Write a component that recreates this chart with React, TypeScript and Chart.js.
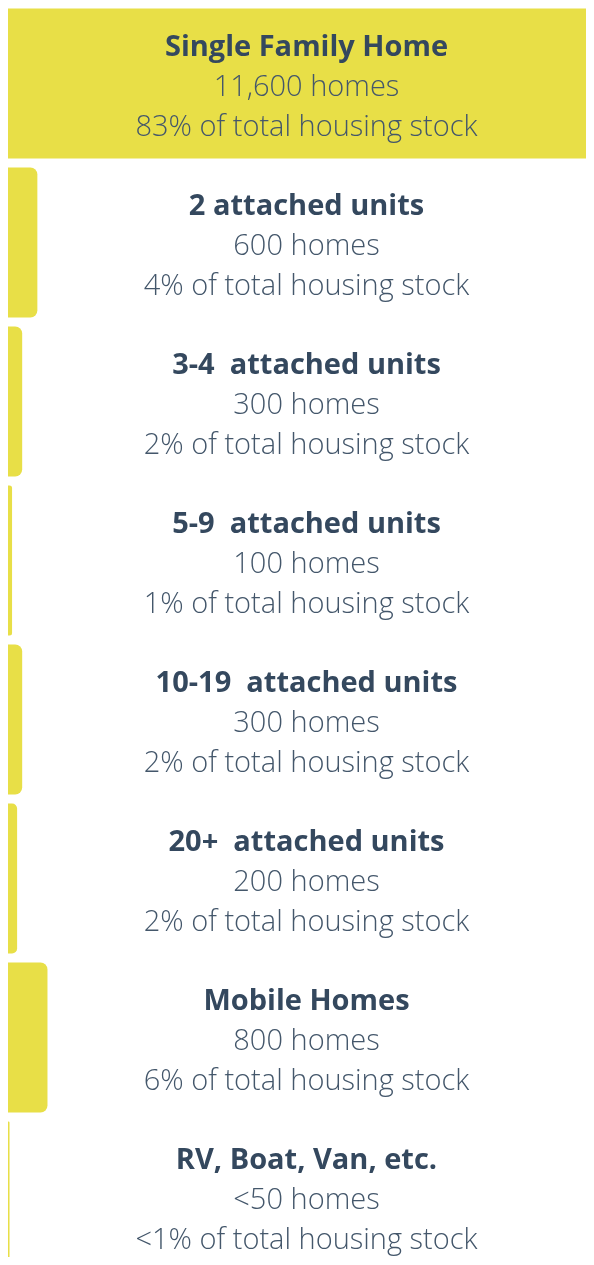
import React, { useEffect, useRef } from "react";
import { Chart, registerables } from "chart.js";

Chart.register(...registerables);

const categories = [
  "Single Family Home",
  "2 attached units",
  "3-4  attached units",
  "5-9  attached units",
  "10-19  attached units",
  "20+  attached units",
  "Mobile Homes",
  "RV, Boat, Van, etc.",
];

const homes = [11600, 600, 300, 100, 300, 200, 800, 50];

const homeLabels = [
  "11,600 homes",
  "600 homes",
  "300 homes",
  "100 homes",
  "300 homes",
  "200 homes",
  "800 homes",
  "<50 homes",
];

const shareLabels = [
  "83% of total housing stock",
  "4% of total housing stock",
  "2% of total housing stock",
  "1% of total housing stock",
  "2% of total housing stock",
  "2% of total housing stock",
  "6% of total housing stock",
  "<1% of total housing stock",
];

const BAR_COLOR = "#E8DF47";
const TEXT_COLOR = "#34485E";
const LIGHT_TEXT_COLOR = "#44576B";
const AXIS_COLOR = "#D4D4D4";

const axisLinePlugin = {
  id: "axisLine",
  beforeDatasetsDraw(chart: any) {
    const { ctx, chartArea } = chart;
    ctx.save();
    ctx.strokeStyle = AXIS_COLOR;
    ctx.lineWidth = 1;
    ctx.beginPath();
    ctx.moveTo(chartArea.left - 0.5, chartArea.top);
    ctx.lineTo(chartArea.left - 0.5, chartArea.bottom);
    ctx.stroke();
    ctx.restore();
  },
};

const labelPlugin = {
  id: "centerLabels",
  afterDatasetsDraw(chart: any) {
    const { ctx, chartArea } = chart;
    const yScale = chart.scales.y;
    const cx = chartArea.left + chartArea.width / 2 + 6;
    ctx.save();
    ctx.textAlign = "center";
    ctx.textBaseline = "middle";
    categories.forEach((cat, i) => {
      const cy = yScale.getPixelForValue(i) + 4;
      ctx.fillStyle = TEXT_COLOR;
      ctx.font = "700 29px 'Open Sans'";
      ctx.fillText(cat, cx, cy - 40);
      ctx.fillStyle = LIGHT_TEXT_COLOR;
      ctx.font = "300 29px 'Open Sans'";
      ctx.fillText(homeLabels[i], cx, cy);
      ctx.fillText(shareLabels[i], cx, cy + 40);
    });
    ctx.restore();
  },
};

export default function App() {
  const canvasRef = useRef<HTMLCanvasElement | null>(null);

  useEffect(() => {
    if (!canvasRef.current) return;
    const chart = new Chart(canvasRef.current, {
      type: "bar",
      data: {
        labels: categories,
        datasets: [
          {
            data: homes,
            backgroundColor: BAR_COLOR,
            borderRadius: 7,
            borderSkipped: "start",
            barPercentage: 1,
            categoryPercentage: 150 / 159,
          },
        ],
      },
      options: {
        indexAxis: "y",
        animation: false,
        responsive: true,
        maintainAspectRatio: false,
        layout: { padding: { left: 1, right: 0, top: 0, bottom: 0 } },
        plugins: {
          legend: { display: false },
          tooltip: { enabled: false },
        },
        scales: {
          x: {
            display: false,
            min: 0,
            max: 11600,
          },
          y: {
            display: false,
          },
        },
      },
      plugins: [axisLinePlugin, labelPlugin],
    });
    const fonts = (document as any).fonts;
    if (fonts && fonts.load) {
      Promise.all([
        fonts.load("700 29px 'Open Sans'"),
        fonts.load("300 29px 'Open Sans'"),
      ])
        .then(() => chart.draw())
        .catch(() => {});
    }
    return () => chart.destroy();
  }, []);

  return (
    <div
      style={{
        width: 588,
        height: 1253,
        marginLeft: -2,
        marginTop: -4,
        overflow: "hidden",
      }}
    >
      <div style={{ position: "relative", width: 588, height: 1272 }}>
        <canvas ref={canvasRef} />
      </div>
    </div>
  );
}
